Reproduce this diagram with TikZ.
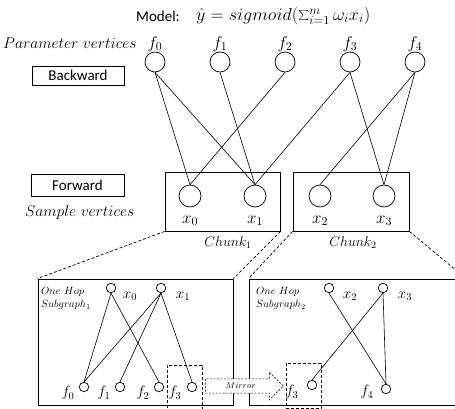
\RequirePackage{fix-cm}
\documentclass[tikz,border=0pt]{standalone}
\usepackage{fontspec}
\newfontfamily\carl{Carlito}
\usetikzlibrary{shapes.arrows}
\tikzset{
  bigc/.style={circle,draw,line width=0.7pt,minimum size=20pt,inner sep=0pt},
  xcirc/.style={circle,draw,line width=0.7pt,minimum size=22pt,inner sep=0pt},
  smc/.style={circle,draw,line width=0.7pt,minimum size=9.5pt,inner sep=0pt},
  lab/.style={inner sep=0pt,font=\fontsize{17}{19}\selectfont},
  slab/.style={inner sep=0pt,font=\fontsize{15}{17}\selectfont},
  itlab/.style={inner sep=0pt,font=\fontsize{15.5}{18}\selectfont},
  tinylab/.style={inner sep=0pt,font=\fontsize{10.5}{12}\selectfont},
  sansbox/.style={draw,line width=0.8pt,inner sep=0pt,font=\carl\fontsize{15}{18}\selectfont},
  framebox/.style={draw,line width=0.9pt,inner sep=0pt},
  edge/.style={line width=0.6pt},
  zoomline/.style={line width=0.7pt,dash pattern=on 3pt off 2pt},
  dbox/.style={line width=0.8pt,dash pattern=on 3pt off 2pt}
}
\begin{document}
\begin{tikzpicture}[x=1pt,y=-1pt]
\useasboundingbox (0,0) rectangle (455,409);
% title
\node[inner sep=0pt,font=\carl\fontsize{15}{18}\selectfont] (model) at (158,16) {Model:};
\node[inner sep=0pt,anchor=west,font=\fontsize{17.5}{20}\selectfont] (formula) at (196,16) {\scalebox{1.04}[1]{$\hat{y} = sigmoid(\sum_{i=1}^{m}\omega_i x_i)$}};
% side labels
\node[itlab,anchor=west] (pv) at (3,43) {$Parameter\ vertices$};
\node[itlab,anchor=west] (sv) at (25,213) {$Sample\ vertices$};
\node[sansbox,minimum width=92pt,minimum height=19pt] (bw) at (78,75.5) {Backward};
\node[sansbox,minimum width=93pt,minimum height=22pt] (fw) at (77.5,185) {Forward};
% chunks
\node[framebox,minimum width=115pt,minimum height=59pt] (c1) at (222.5,201.5) {};
\node[framebox,minimum width=116pt,minimum height=59pt] (c2) at (351,201.5) {};
\node[inner sep=0pt,font=\fontsize{14}{16}\selectfont] (c1l) at (228,243) {$Chunk_1$};
\node[inner sep=0pt,font=\fontsize{14}{16}\selectfont] (c2l) at (353,243) {$Chunk_2$};
% parameter vertices
\foreach \i/\x in {0/155,1/220,2/285,3/350,4/415}{
  \node[bigc] (f\i) at (\x,62) {};
  \node[lab] (fl\i) at (\x,44) {$f_{\i}$};
}
% sample vertices
\foreach \i/\x in {0/190,1/255,2/320,3/384}{
  \node[xcirc] (x\i) at (\x,196) {};
  \node[lab] (xl\i) at (\x,221) {$x_{\i}$};
}
\foreach \a/\b in {0/0,0/1,1/1,2/0,3/1,3/3,4/2,4/3}{
  \draw[edge] (f\a.south) -- (x\b.north);
}
% subgraph boxes
\node[framebox,minimum width=195pt,minimum height=126pt] (s1) at (135.5,342) {};
\node[framebox,minimum width=216.5pt,minimum height=126pt] (s2) at (357.25,342) {};
\draw[zoomline] (c1.south west) -- (s1.north west);
\draw[zoomline] (c1.south east) -- (s1.north east);
\draw[zoomline] (c2.south west) -- (s2.north west);
\draw[zoomline] (c2.south east) -- (s2.north east);
% subgraph 1
\node[tinylab,anchor=west] (oh1) at (41,292) {$One\ Hop$};
\node[tinylab,anchor=west] (sg1) at (41,305) {$Subgraph_1$};
\node[smc] (a0) at (111,288) {};
\node[smc] (a1) at (161,288) {};
\node[slab] (al0) at (130,296) {$x_0$};
\node[slab] (al1) at (183,296) {$x_1$};
\foreach \i/\x/\lx in {0/84/68,1/120/104,2/159/143,3/192/175}{
  \node[smc] (g\i) at (\x,387) {};
  \node[slab] (gl\i) at (\lx,393) {$f_{\i}$};
}
\foreach \a/\b in {0/0,0/2,1/0,1/1,1/3}{
  \draw[edge] (a\a.south) -- (g\b.north);
}
% subgraph 2
\node[tinylab,anchor=west] (oh2) at (256,292) {$One\ Hop$};
\node[tinylab,anchor=west] (sg2) at (256,305) {$Subgraph_2$};
\node[smc] (b2) at (329,288) {};
\node[smc] (b3) at (383,288) {};
\node[slab] (bl2) at (350,296) {$x_2$};
\node[slab] (bl3) at (405,296) {$x_3$};
\node[smc] (h3) at (312,385) {};
\node[smc] (h4) at (386,389) {};
\node[slab] (hl3) at (292,392) {$f_3$};
\node[slab] (hl4) at (367,392) {$f_4$};
\draw[edge] (b2.south) -- (h4.north);
\draw[edge] (b3.south) -- (h3.north);
\draw[edge] (b3.south) -- (h4.north);
% mirror dashed boxes
\node[dbox,draw,minimum width=35pt,minimum height=50pt,inner sep=0pt] (m1) at (184.5,390) {};
\node[dbox,draw,minimum width=35pt,minimum height=45pt,inner sep=0pt] (m2) at (303.5,385.5) {};
% mirror arrow
\node[single arrow,draw,fill=white,line width=0.6pt,dash pattern=on 2pt off 1.5pt,
      anchor=tail,minimum height=78pt,minimum width=28pt,single arrow head extend=6.5pt,
      inner xsep=2pt,inner ysep=3.5pt,font=\fontsize{8.5}{10}\selectfont] (mir) at (205,386) {$Mirror$};
\end{tikzpicture}
\end{document}
